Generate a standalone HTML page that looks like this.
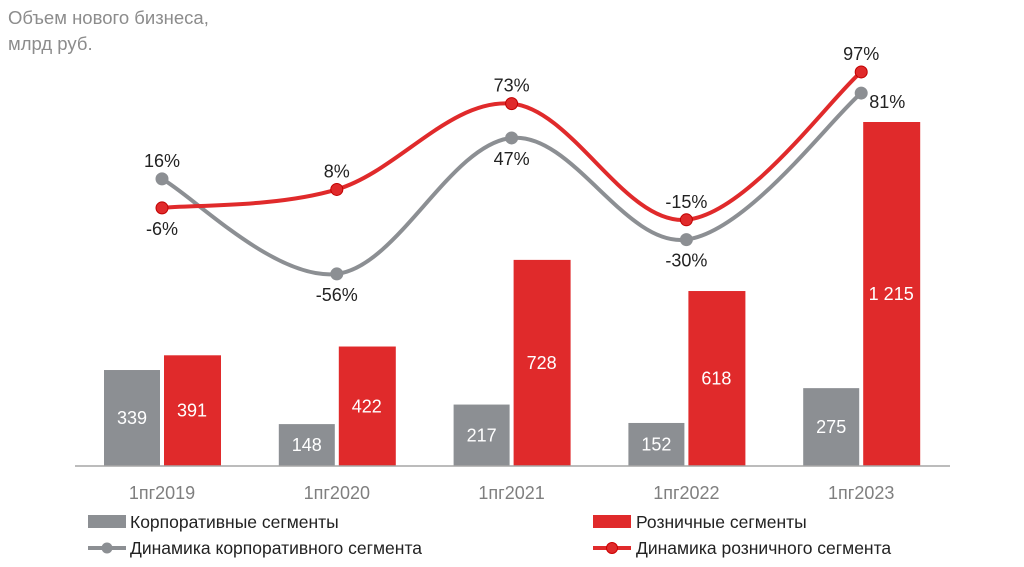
<!DOCTYPE html>
<html><head><meta charset="utf-8"><style>
body{margin:0;background:#fff;font-family:"Liberation Sans",sans-serif}
svg text{font-family:"Liberation Sans",sans-serif}
</style></head><body>
<svg width="1024" height="562" viewBox="0 0 1024 562">
<text x="8" y="24" font-size="18.5" fill="#8c8c8c">Объем нового бизнеса,</text>
<text x="8" y="50" font-size="18.5" fill="#8c8c8c">млрд руб.</text>
<g id="bars"></g><g id="lines"></g>
<line x1="75" y1="466" x2="950" y2="466" stroke="#a6a6a6" stroke-width="1.5"/>
<g>
<rect x="88" y="515" width="38" height="13" fill="#8c8f93"/>
<text x="130" y="528" font-size="17.5" fill="#222">Корпоративные сегменты</text>
<rect x="593" y="515" width="38" height="13" fill="#e02a2b"/>
<text x="636" y="528" font-size="17.5" fill="#222">Розничные сегменты</text>
<line x1="88" y1="548" x2="126" y2="548" stroke="#8c8f93" stroke-width="4"/>
<circle cx="107" cy="548" r="5.5" fill="#8c8f93"/>
<text x="130" y="554" font-size="17.5" fill="#222">Динамика корпоративного сегмента</text>
<line x1="593" y1="548" x2="631" y2="548" stroke="#e02a2b" stroke-width="4"/>
<circle cx="612" cy="548" r="5.5" fill="#e02a2b" stroke="#c00"/>
<text x="636" y="554" font-size="17.5" fill="#222">Динамика розничного сегмента</text>
</g>
</svg>
<script>
const categories=["1пг2019","1пг2020","1пг2021","1пг2022","1пг2023"];
const corpValues=[339,148,217,152,275];
const retailValues=[391,422,728,618,1215];
const retailLabels=["391","422","728","618","1 215"];
const corpGrowth=[16,-56,47,-30,81];
const retailGrowth=[-6,8,73,-15,97];
const corpGrowthPos=["above","below","below","below","right"];
const retailGrowthPos=["below","above","above","above","above"];
const NS="http://www.w3.org/2000/svg";
const base=466, barScale=344/1215;
const xC=i=>162+i*174.8;
const yBar=v=>base-v*barScale;
const yLine=v=>200-1.32*v;
function mk(tag,attrs,parent,text){const e=document.createElementNS(NS,tag);for(const k in attrs)e.setAttribute(k,attrs[k]);if(text!==undefined)e.textContent=text;parent.appendChild(e);return e;}
const bars=document.getElementById('bars');
categories.forEach((c,i)=>{
 const cx=xC(i);
 let r=mk('rect',{x:cx-58,y:yBar(corpValues[i]),width:56,height:corpValues[i]*barScale,fill:'#8c8f93'},bars);
 
 
 let t=mk('text',{x:cx-30,y:(yBar(corpValues[i])+base)/2+6,'font-size':18,fill:'#fff','text-anchor':'middle'},bars,String(corpValues[i]));
 
 
 r=mk('rect',{x:cx+2,y:yBar(retailValues[i]),width:57,height:retailValues[i]*barScale,fill:'#e02a2b'},bars);
 
 
 t=mk('text',{x:cx+30,y:(yBar(retailValues[i])+base)/2+6,'font-size':18,fill:'#fff','text-anchor':'middle'},bars,retailLabels[i]);
 
 
 t=mk('text',{x:cx,y:499,'font-size':18,fill:'#7f7f7f','text-anchor':'middle'},bars,c);
 
 
});
function path(vals){
 const p=vals.map((v,i)=>[xC(i),yLine(v)]);
 let d='M'+p[0][0]+','+p[0][1];
 for(let i=0;i<p.length-1;i++){
  const p0=p[i-1]||p[i],p1=p[i],p2=p[i+1],p3=p[i+2]||p2;
  const t=0.35;
  const c1=[p1[0]+(p2[0]-p0[0])*t/2,p1[1]+(p2[1]-p0[1])*t/2];
  const c2=[p2[0]-(p3[0]-p1[0])*t/2,p2[1]-(p3[1]-p1[1])*t/2];
  d+=` C${c1[0]},${c1[1]} ${c2[0]},${c2[1]} ${p2[0]},${p2[1]}`;
 }
 return d;
}
const lines=document.getElementById('lines');
function series(vals,pos,color,name){
 let l=mk('path',{d:path(vals),fill:'none',stroke:color,'stroke-width':4},lines);
 
 
 vals.forEach((v,i)=>{
  const x=xC(i),y=yLine(v);
  let c=mk('circle',{cx:x,cy:y,r:6,fill:color,stroke:name==='retail'?'#c00000':color,'stroke-width':1},lines);
  
  
  let tx=x,ty=y-12,anc='middle';
  if(pos[i]==='below')ty=y+27;
  if(pos[i]==='right'){tx=x+8;ty=y+15;anc='start';}
  let t=mk('text',{x:tx,y:ty,'font-size':18,fill:'#222','text-anchor':anc},lines,v+'%');
  
  
 });
}
series(corpGrowth,corpGrowthPos,'#8c8f93','corp');
series(retailGrowth,retailGrowthPos,'#e02a2b','retail');
</script>
</body></html>
